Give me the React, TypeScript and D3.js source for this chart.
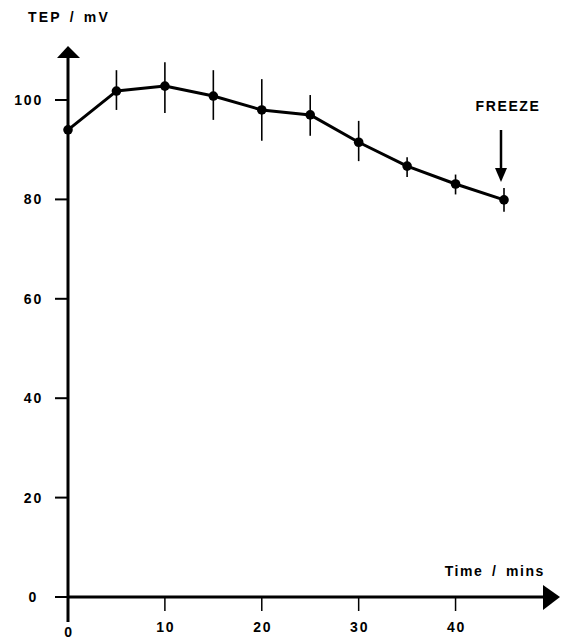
import React from "react";
import * as d3 from "d3";

// values
const times = [0, 5, 10, 15, 20, 25, 30, 35, 40, 45];
const tep = [94, 101.8, 102.8, 100.8, 98, 97, 91.5, 86.7, 83.1, 79.9];
const errLow = [94, 98, 97.4, 96, 91.8, 92.8, 87.7, 84.5, 81, 77.5];
const errHigh = [94, 106, 107.6, 106, 104.2, 101, 95.8, 88.5, 85, 82.3];
const yTicks = [0, 20, 40, 60, 80, 100];
const xTicks = [10, 20, 30, 40];

const width = 561;
const height = 641;
const font = "'Liberation Sans', Arial, sans-serif";

export default function App() {
    const x = d3.scaleLinear().domain([0, 45]).range([68, 504]);
    const y = d3.scaleLinear().domain([0, 100]).range([597, 100]);

    const data = times.map((t, i) => ({ t, v: tep[i], lo: errLow[i], hi: errHigh[i] }));

    const line = d3
        .line<{ t: number; v: number }>()
        .x((d) => x(d.t))
        .y((d) => y(d.v));

    const x0 = x(0);
    const y0 = y(0);
    const label = { fontFamily: font, fontWeight: 700, fontSize: 14, letterSpacing: 1.8 };

    // freeze arrow points at the last reading
    const last = data[data.length - 1];
    const fx = x(last.t) - 3;

    return (
        <svg
            width={width}
            height={height}
            style={{ position: "absolute", left: 0, top: 0, background: "#fff" }}
        >
            {/* axis title */}
            <text x={28} y={22} {...label} letterSpacing={2.2} wordSpacing={2}>
                TEP / mV
            </text>

            {/* y axis */}
            <line x1={x0} x2={x0} y1={56} y2={622} stroke="#000" strokeWidth={3} />
            <path d={`M${x0 - 11},${58} L${x0},${46} L${x0 + 12},${58} Z`} fill="#000" />
            {yTicks.map((t) => (
                <g key={t}>
                    <line x1={x0 - 13} x2={x0} y1={y(t)} y2={y(t)} stroke="#000" strokeWidth={2} />
                    <text x={t === 0 ? 38 : 43} y={y(t) + 5} textAnchor="end" {...label}>
                        {t}
                    </text>
                </g>
            ))}

            {/* x axis */}
            <line x1={x0} x2={545} y1={y0} y2={y0} stroke="#000" strokeWidth={3} />
            <path d={`M${543},${y0 - 12} L${560},${y0} L${543},${y0 + 13} Z`} fill="#000" />
            {xTicks.map((t) => (
                <g key={t}>
                    <line x1={x(t)} x2={x(t)} y1={y0} y2={y0 + 14} stroke="#000" strokeWidth={1.5} />
                    <text x={x(t) + 1} y={y0 + 35} textAnchor="middle" {...label}>
                        {t}
                    </text>
                </g>
            ))}
            <text x={x0 + 1} y={y0 + 40} textAnchor="middle" {...label}>0</text>
            <text x={545} y={576} textAnchor="end" {...label} letterSpacing={1.6} wordSpacing={3}>
                Time / mins
            </text>

            {/* error bars */}
            {data.map((d) => (
                <line
                    key={"e" + d.t}
                    x1={x(d.t)}
                    x2={x(d.t)}
                    y1={y(d.lo)}
                    y2={y(d.hi)}
                    stroke="#000"
                    strokeWidth={1.6}
                />
            ))}

            {/* data line and points */}
            <path d={line(data) || ""} fill="none" stroke="#000" strokeWidth={3} strokeLinejoin="round" />
            {data.map((d) => (
                <circle key={"p" + d.t} cx={x(d.t)} cy={y(d.v)} r={4.8} fill="#000" />
            ))}

            {/* freeze marker */}
            <text x={508} y={111} textAnchor="middle" {...label} letterSpacing={1.6}>
                FREEZE
            </text>
            <line x1={fx} x2={fx} y1={130} y2={172} stroke="#000" strokeWidth={2.5} />
            <path d={`M${fx - 6},${168} L${fx},${182} L${fx + 6},${168} Z`} fill="#000" />
        </svg>
    );
}
